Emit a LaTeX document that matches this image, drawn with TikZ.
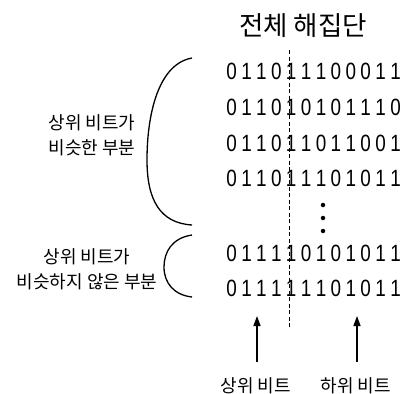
\documentclass[tikz,border=0pt]{standalone}
\usepackage{fontspec}
\setmainfont{Liberation Sans}
\newfontfamily\kr{Noto Sans CJK KR}
\usetikzlibrary{arrows.meta}
\newcommand\bitrow[1]{\bitrowi#1\relax}
\def\bitrowi#1{\ifx#1\relax\else\makebox[14.9pt]{\scalebox{0.9}[1.12]{#1}}\expandafter\bitrowi\fi}
\tikzset{
  bits/.style={anchor=west,inner sep=0pt,font=\fontsize{21}{21}\selectfont},
  krlab/.style={inner sep=0pt,align=center,font=\kr\fontsize{18}{25}\selectfont},
  ttl/.style={inner sep=0pt,font=\kr\fontsize{26.5}{26.5}\selectfont},
  brace/.style={line width=1.3pt},
  divider/.style={line width=0.8pt,dash pattern=on 4pt off 2.5pt},
  arr/.style={line width=1.4pt,-{Triangle[width=7pt,length=10pt]}},
  dotm/.style={circle,fill=black,inner sep=0pt,minimum size=4.5pt}
}
\begin{document}
\begin{tikzpicture}[x=1pt,y=-1pt]
\useasboundingbox (0,0) rectangle (405,394);
\node[ttl] (title) at (303,26) {전체 해집단};
\node[bits] (r1) at (224,71)  {\bitrow{011011100011}};
\node[bits] (r2) at (224,107) {\bitrow{011010101110}};
\node[bits] (r3) at (224,143) {\bitrow{011011011001}};
\node[bits] (r4) at (224,178) {\bitrow{011011101011}};
\node[bits] (r5) at (224,253) {\bitrow{011110101011}};
\node[bits] (r6) at (224,288) {\bitrow{011111101011}};
\node[dotm] (d1) at (323,205) {};
\node[dotm] (d2) at (323,218) {};
\node[dotm] (d3) at (323,231) {};
\coordinate (dtop) at (289,50);
\coordinate (dbot) at (289,327);
\draw[divider] (dtop) -- (dbot);
% braces
\coordinate (b1t) at (192,58);
\coordinate (b1b) at (192,225);
\draw[brace] (b1t) .. controls (158,64) and (147,115) .. (147,160)
  .. controls (147,200) and (160,223) .. (b1b);
\coordinate (b2t) at (192,235);
\coordinate (b2b) at (192,297);
\draw[brace] (b2t) .. controls (172,238) and (164,252) .. (164,267)
  .. controls (164,283) and (174,295) .. (b2b);
% left labels
\node[krlab] (l1) at (92,135) {상위 비트가\\비슷한 부분};
\node[krlab] (l2) at (87,269) {상위 비트가\\비슷하지 않은 부분};
% bottom labels
\node[krlab] (h) at (256,386) {상위 비트};
\node[krlab] (lo) at (356,386) {하위 비트};
\coordinate (a1s) at (257,362);
\coordinate (a1e) at (257,316);
\coordinate (a2s) at (357,362);
\coordinate (a2e) at (357,316);
\draw[arr] (a1s) -- (a1e);
\draw[arr] (a2s) -- (a2e);
\end{tikzpicture}
\end{document}
